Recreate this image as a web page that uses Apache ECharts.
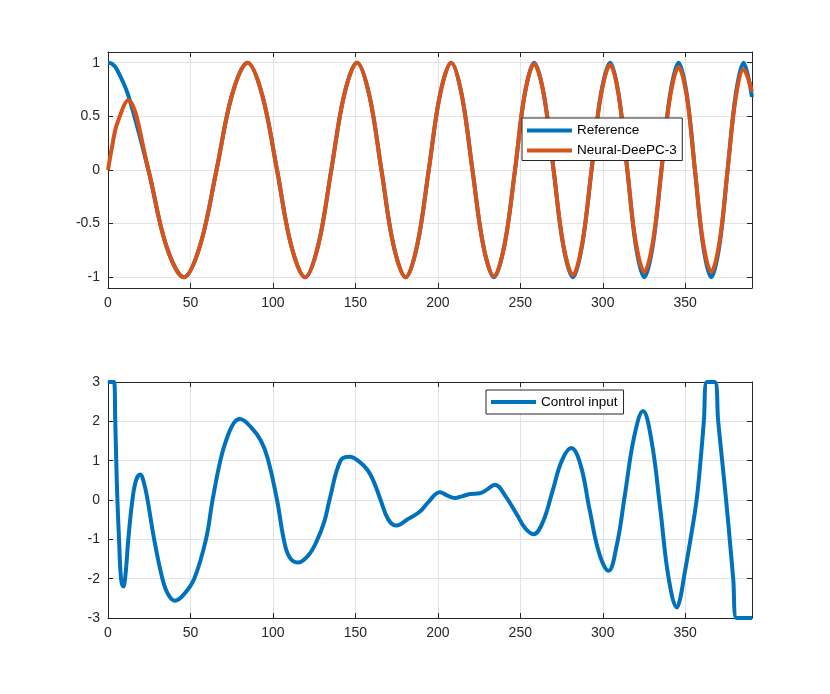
<!DOCTYPE html>
<html>
<head>
<meta charset="utf-8">
<script src="https://cdn.jsdelivr.net/npm/echarts@6/dist/echarts.min.js"></script>
<style>
html, body { margin: 0; padding: 0; background: #fff; }
#main { width: 830px; height: 694px; }
</style>
</head>
<body>
<div id="main"></div>
<script>
// top plot: sample times
var timeTop = [0, 2.5, 5.3, 12.2,
	24.5, 35.2, 46, 55.9, 65.8, 75.2, 84.6, 93.5, 102.5, 111, 119.5, 127.5,
	135.4, 143.2, 151, 158.4, 165.8, 173.1, 180.5, 187.5, 194.5, 201.3, 208.1, 214.5,
	221, 227.5, 234, 240.4, 246.8, 252.6, 258.4, 264.3, 270.2, 276, 281.9, 287.5,
	293.2, 298.8, 304.5, 309.7, 314.9, 320, 325.2, 330.4, 335.6, 340.8, 346, 351,
	355.9, 360.8, 365.8, 370.8, 375.7, 380.6, 385.4, 390.5];
var referenceVal = [1, 0.99, 0.94, 0.7,
	0, -0.7, -1, -0.7, 0, 0.7, 1, 0.7, 0, -0.7, -1, -0.7,
	0, 0.7, 1, 0.7, 0, -0.7, -1, -0.7, 0, 0.7, 1, 0.7,
	0, -0.7, -1, -0.7, 0, 0.7, 1, 0.7, 0, -0.7, -1, -0.7,
	0, 0.7, 1, 0.7, 0, -0.7, -1, -0.7, 0, 0.7, 1, 0.7,
	0, -0.7, -1, -0.7, 0, 0.7, 1, 0.68];
var neuralVal = [0, 0.22, 0.42, 0.65,
	0, -0.7, -1, -0.7, 0, 0.7, 1, 0.7, 0, -0.7, -1, -0.7,
	0, 0.7, 1, 0.7, 0, -0.7, -1, -0.7, 0, 0.7, 1, 0.7,
	0, -0.7, -0.99, -0.7, 0, 0.7, 0.99, 0.7, 0, -0.69, -0.98, -0.69,
	0, 0.69, 0.98, 0.69, 0, -0.67, -0.95, -0.67, 0, 0.68, 0.96, 0.68,
	0, -0.67, -0.95, -0.67, 0, 0.67, 0.94, 0.73];

// bottom plot
var timeBottom = [0, 3.6, 4.4, 5, 5.7, 6.7, 7.9, 9.3, 10.6, 12.3, 14.8, 17, 19.5, 22, 24,
	28, 33, 36.5, 40.7, 46, 52.3, 59.4, 63.4, 68.1, 71.5, 76.2, 80, 86.7, 92.8, 96.9,
	102.5, 106.6, 110, 115.1, 121.2, 126.2, 131.3, 134.3, 141, 146.5, 151.6, 157.6,
	161.7, 165.3, 170, 174.9, 182, 189, 194.1, 201.2, 205.5, 210.3, 215, 219.5, 225.5,
	230, 234.6, 241, 247.8, 253, 258, 263.7, 269.5, 275.2, 280.9, 286.5, 292, 297.8,
	303.5, 308.5, 313.5, 319, 324.4, 329.6, 334.8, 340, 345.1, 347, 349.1, 353.2,
	356.9, 359.3, 361.3, 363.3, 367.8, 370, 372.4, 374.8, 377, 379.1, 381.2, 390.5];
var controlVal = [3, 3, 2, 1, 0, -1, -2, -2.2, -1.9, -1, 0, 0.5, 0.65, 0.4, 0,
	-1, -2, -2.4, -2.56, -2.4, -2, -1, 0, 1, 1.5, 1.95, 2.06, 1.85, 1.5, 1.05,
	0, -1, -1.45, -1.59, -1.42, -1.08, -0.53, 0, 1, 1.1, 1.0, 0.75,
	0.41, 0, -0.5, -0.65, -0.48, -0.3, -0.06, 0.2, 0.12, 0.05, 0.1, 0.15, 0.17,
	0.27, 0.39, 0.1, -0.36, -0.72, -0.87, -0.56, 0.22, 1.0, 1.32, 0.9, -0.24, -1.35,
	-1.8, -1.15, 0.15, 1.6, 2.26, 1.5, -0.2, -2.0, -2.73, -2.5, -2, -1,
	0, 1, 2, 3, 3, 2, 1, 0, -1, -2, -3, -3];

var axisColor = '#262626';
var gridColor = '#e3e3e3';
var fontName = '"Liberation Sans", Arial, sans-serif';

var chart = echarts.init(document.getElementById('main'));

function toPairs(xs, ys) {
	var arr = [];
	xs.forEach(function(x, i) {
		arr.push([x, ys[i]]);
	});
	return arr;
}

function hideOdd(step) {
	return function(v) {
		var k = Math.round(v / step);
		return Math.abs(k * step - v) < 1e-6 ? String(+(k * step).toFixed(2)) : '';
	};
}

function makeX(gridIndex, main) {
	return {
		type: 'value',
		gridIndex: gridIndex,
		position: main ? 'bottom' : 'top',
		min: 0,
		max: 390.5,
		interval: 50,
		axisLine: { show: true, onZero: false, lineStyle: { color: axisColor, width: 1 } },
		axisTick: { show: true, inside: true, length: 5, lineStyle: { color: axisColor } },
		axisLabel: {
			show: main,
			color: axisColor,
			fontSize: 14,
			fontFamily: fontName,
			margin: 8,
			formatter: hideOdd(50)
		},
		splitLine: { show: main, lineStyle: { color: gridColor, width: 1 } }
	};
}

function makeY(gridIndex, main, lo, hi, step) {
	var ax = {
		type: 'value',
		gridIndex: gridIndex,
		position: main ? 'left' : 'right',
		min: lo,
		max: hi,
		axisLine: { show: true, onZero: false, lineStyle: { color: axisColor, width: 1 } },
		axisTick: { show: true, inside: true, length: 5, lineStyle: { color: axisColor } },
		axisLabel: {
			show: main,
			color: axisColor,
			fontSize: 14,
			fontFamily: fontName,
			margin: 8,
			formatter: hideOdd(step)
		},
		splitLine: { show: main, lineStyle: { color: gridColor, width: 1 } }
	};
	// only set interval when min is a multiple of it
	if (Math.abs(lo / step - Math.round(lo / step)) < 1e-9) ax.interval = step;
	return ax;
}

function legendBox(names, left, top, padding) {
	return {
		data: names,
		orient: 'vertical',
		left: left,
		top: top,
		icon: 'rect',
		itemWidth: 45,
		itemHeight: 4,
		itemGap: 6,
		padding: padding,
		backgroundColor: '#fff',
		borderColor: axisColor,
		borderWidth: 1,
		borderRadius: 0,
		textStyle: { color: '#000', fontSize: 13.5, fontFamily: fontName },
		selectedMode: false
	};
}

function lineSer(name, xi, yi, data, color, smooth) {
	return {
		name: name,
		type: 'line',
		xAxisIndex: xi,
		yAxisIndex: yi,
		data: data,
		smooth: smooth,
		symbol: 'none',
		showSymbol: false,
		lineStyle: { color: color, width: 4 },
		itemStyle: { color: color },
		z: 3
	};
}

chart.setOption({
	animation: false,
	backgroundColor: '#fff',
	grid: [
		{ left: 108, top: 52, width: 644, height: 236 },
		{ left: 108, top: 382, width: 644, height: 236 }
	],
	xAxis: [makeX(0, true), makeX(0, false), makeX(1, true), makeX(1, false)],
	yAxis: [
		makeY(0, true, -1.1, 1.1, 0.5),
		makeY(0, false, -1.1, 1.1, 0.5),
		makeY(1, true, -3, 3, 1),
		makeY(1, false, -3, 3, 1)
	],
	legend: [
		legendBox(['Reference', 'Neural-DeePC-3'], 522, 118, [5.5, 5.5, 3, 5]),
		legendBox(['Control input'], 486, 390, [5, 6, 5, 5])
	],
	series: [
		lineSer('Reference', 0, 0, toPairs(timeTop, referenceVal), '#0072BD', 0.35),
		lineSer('Neural-DeePC-3', 0, 0, toPairs(timeTop, neuralVal), '#D95319', 0.35),
		lineSer('Control input', 2, 2, toPairs(timeBottom, controlVal), '#0072BD', 0.4)
	]
});
</script>
</body>
</html>
